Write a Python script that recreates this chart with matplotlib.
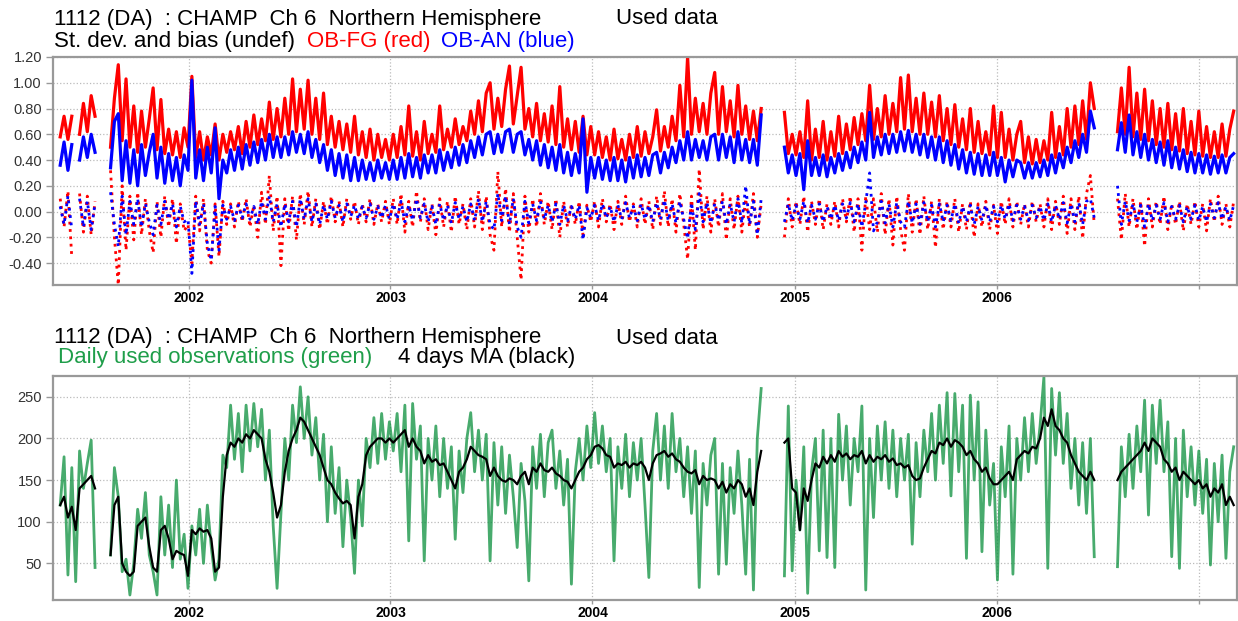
import numpy as np
import matplotlib
matplotlib.use('Agg')
import matplotlib.pyplot as plt

plt.rcParams['font.family'] = ['Liberation Sans', 'DejaVu Sans']

nan = float('nan')

# weekly samples, first week starting 2001-05-14
start = '2001-05-14'

# OB-FG std dev (red, solid)
fg_sd = [
    0.58, 0.74, 0.56, 0.74, nan, 0.60, 0.84, 0.62, 0.90, 0.74,
    nan, nan, nan,
    0.50, 0.88, 1.14, 0.55, 1.03, 0.50, 0.82, 0.46, 0.78, 0.50, 0.72,
    0.96, 0.48, 0.87, 0.45, 0.64, 0.44, 0.62, 0.42, 0.65, 0.50,
    1.05, 0.42, 0.62, 0.40, 0.58, 0.44, 0.68, 0.40, 0.60, 0.46, 0.62, 0.48,
    0.66, 0.45, 0.70, 0.50, 0.75, 0.52, 0.72, 0.55, 0.85, 0.56, 0.80,
    0.58, 0.88, 0.60, 1.03, 0.62, 0.95, 0.64, 1.02, 0.60, 0.88, 0.56, 0.92, 0.52, 0.74, 0.50,
    0.70, 0.48, 0.68, 0.46, 0.74, 0.44, 0.62, 0.42, 0.64, 0.40, 0.60, 0.42, 0.56, 0.40,
    0.60, 0.42, 0.66, 0.44, 0.82, 0.43, 0.62, 0.40, 0.70, 0.45, 0.60,
    0.46, 0.82, 0.48, 0.64, 0.50, 0.72, 0.52, 0.66, 0.55, 0.78,
    0.60, 0.86, 0.62, 0.92, 1.00, 0.64, 0.88, 0.66, 0.95, 1.13, 0.68, 0.90, 1.12, 0.64,
    0.80, 0.58, 0.84, 0.55, 0.76, 0.54, 0.82, 0.52, 0.97, 0.50, 0.72, 0.48, 0.70, 0.46, 0.74, 0.44, 0.66,
    0.44, 0.62, 0.42, 0.58, 0.40, 0.64, 0.41, 0.56, 0.40, 0.60, 0.42, 0.66, 0.43, 0.62, 0.45, 0.58,
    0.79, 0.47, 0.66, 0.50, 0.74, 0.55, 0.98, 0.58, 1.20, 0.60, 0.88, 0.62, 0.84, 0.60, 0.92, 1.08,
    0.60, 0.97, 0.62, 0.86, 0.58, 0.98, 0.60, 0.82, 0.56, 0.78, 0.55, 0.80,
    nan, nan, nan, nan, nan,
    0.77, 0.45, 0.60, 0.44, 0.62, 0.42, 0.86, 0.40, 0.64, 0.42, 0.70, 0.40, 0.62, 0.43, 0.74, 0.45, 0.68, 0.48, 0.73,
    0.52, 0.76, 0.55, 0.98, 0.56, 0.80, 0.58, 0.90, 0.60, 0.84, 0.62, 1.04, 0.64, 1.06, 0.62, 0.88, 0.60, 0.92,
    0.60, 0.85, 0.58, 0.90, 0.55, 0.80, 0.52, 0.83, 0.50, 0.72, 0.48, 0.80, 0.46, 0.70, 0.45, 0.62, 0.44, 0.82,
    0.42, 0.77, 0.42, 0.64, 0.40, 0.60, 0.70, 0.38, 0.58, 0.37, 0.56, 0.38, 0.55, 0.40, 0.77, 0.42, 0.66, 0.44, 0.80,
    0.50, 0.82, 0.52, 0.86, 0.56, 1.00, 0.80,
    nan, nan, nan, nan, nan,
    0.62, 0.96, 0.60, 1.12, 0.58, 0.92, 0.56, 0.95, 0.55, 0.86, 0.52, 0.80, 0.50, 0.84, 0.48, 0.76, 0.47, 0.80,
    0.45, 0.70, 0.44, 0.78, 0.43, 0.66, 0.42, 0.62, 0.42, 0.68, 0.43, 0.64, 0.78,
]

# OB-AN std dev (blue, solid)
an_sd = [
    0.36, 0.54, 0.32, 0.52, nan, 0.40, 0.58, 0.42, 0.60, 0.46,
    nan, nan, nan,
    0.34, 0.70, 0.76, 0.24, 0.55, 0.22, 0.48, 0.20, 0.52, 0.28, 0.46,
    0.60, 0.26, 0.50, 0.22, 0.45, 0.24, 0.42, 0.20, 0.44, 0.32,
    1.02, 0.26, 0.48, 0.24, 0.50, 0.30, 0.65, 0.10, 0.40, 0.30, 0.48, 0.32,
    0.50, 0.33, 0.52, 0.36, 0.54, 0.38, 0.56, 0.40, 0.60, 0.42, 0.58,
    0.42, 0.58, 0.44, 0.62, 0.46, 0.60, 0.45, 0.62, 0.42, 0.56, 0.38, 0.52, 0.32, 0.48, 0.28,
    0.45, 0.26, 0.44, 0.24, 0.42, 0.24, 0.40, 0.25, 0.38, 0.24, 0.40, 0.26, 0.38, 0.25,
    0.40, 0.25, 0.42, 0.26, 0.45, 0.27, 0.42, 0.26, 0.44, 0.30, 0.44,
    0.30, 0.48, 0.32, 0.46, 0.34, 0.50, 0.36, 0.52, 0.38, 0.55,
    0.42, 0.58, 0.44, 0.60, 0.62, 0.45, 0.60, 0.46, 0.62, 0.64, 0.46, 0.60, 0.62, 0.44,
    0.56, 0.40, 0.55, 0.36, 0.52, 0.34, 0.50, 0.32, 0.52, 0.30, 0.46, 0.28, 0.45, 0.30, 0.72, 0.15, 0.42,
    0.26, 0.42, 0.25, 0.40, 0.24, 0.42, 0.24, 0.40, 0.23, 0.42, 0.26, 0.44, 0.27, 0.42, 0.28, 0.44,
    0.46, 0.30, 0.46, 0.34, 0.50, 0.38, 0.55, 0.40, 0.62, 0.40, 0.56, 0.42, 0.55, 0.40, 0.58, 0.60,
    0.40, 0.60, 0.42, 0.58, 0.38, 0.62, 0.40, 0.56, 0.38, 0.56, 0.36, 0.75,
    nan, nan, nan, nan, nan,
    0.50, 0.30, 0.44, 0.28, 0.45, 0.17, 0.55, 0.28, 0.42, 0.28, 0.44, 0.27, 0.42, 0.30, 0.45, 0.32, 0.46, 0.34, 0.50,
    0.38, 0.54, 0.40, 0.77, 0.42, 0.58, 0.44, 0.60, 0.45, 0.60, 0.46, 0.62, 0.47, 0.63, 0.46, 0.60, 0.44, 0.60,
    0.42, 0.58, 0.40, 0.58, 0.38, 0.55, 0.36, 0.52, 0.33, 0.48, 0.30, 0.46, 0.29, 0.45, 0.28, 0.44, 0.28, 0.46,
    0.28, 0.42, 0.23, 0.40, 0.27, 0.40, 0.38, 0.26, 0.38, 0.26, 0.38, 0.27, 0.40, 0.28, 0.44, 0.30, 0.45, 0.34, 0.50,
    0.38, 0.55, 0.42, 0.60, 0.46, 0.78, 0.65,
    nan, nan, nan, nan, nan,
    0.48, 0.69, 0.46, 0.75, 0.44, 0.62, 0.42, 0.60, 0.40, 0.56, 0.38, 0.54, 0.36, 0.55, 0.34, 0.50, 0.33, 0.48,
    0.31, 0.46, 0.30, 0.45, 0.30, 0.44, 0.29, 0.43, 0.30, 0.44, 0.30, 0.42, 0.45,
]

# OB-FG bias (red, dotted)
fg_bias = [
    0.10, -0.12, 0.16, -0.36, nan, 0.14, -0.16, 0.12, -0.18, 0.08,
    nan, nan, nan,
    0.32, -0.20, -0.57, 0.20, -0.30, 0.12, -0.22, 0.15, -0.18, 0.10, -0.15,
    -0.32, 0.08, -0.20, 0.12, -0.12, 0.10, -0.25, 0.06, -0.15, -0.10,
    -0.40, 0.12, -0.15, 0.10, -0.30, -0.40, 0.06, -0.35, 0.08, -0.10, 0.06, -0.12,
    0.08, -0.08, 0.10, -0.12, 0.05, -0.20, 0.15, -0.10, 0.28, -0.15, 0.12,
    -0.42, 0.10, -0.15, 0.12, -0.22, 0.14, -0.10, 0.16, -0.12, 0.10, -0.14, 0.08, -0.10, 0.12, -0.08,
    0.08, -0.12, 0.10, -0.06, 0.08, -0.10, 0.06, -0.08, 0.10, -0.10, 0.06, -0.08, 0.08, -0.10,
    0.10, -0.10, 0.14, -0.16, 0.08, -0.12, 0.16, -0.08, 0.10, -0.14, 0.06,
    -0.18, 0.10, -0.12, 0.08, -0.16, 0.12, -0.10, 0.06, -0.14, 0.10,
    -0.12, 0.16, -0.14, 0.12, -0.18, -0.30, 0.31, -0.12, 0.18, -0.16, 0.14, -0.20, -0.53, 0.12,
    -0.16, 0.10, -0.12, 0.14, -0.10, 0.08, -0.14, 0.10, -0.20, 0.08, -0.12, 0.06, -0.10, 0.08, -0.18, 0.05, -0.08,
    0.08, -0.12, 0.10, -0.08, 0.06, -0.14, 0.08, -0.10, 0.12, -0.08, 0.06, -0.12, 0.10, -0.10, 0.08, -0.14,
    0.12, -0.10, 0.16, -0.12, 0.10, -0.16, 0.14, -0.10, -0.37, 0.12, -0.30, 0.33, -0.14, 0.12, -0.16, 0.10,
    -0.12, 0.14, -0.22, 0.10, -0.14, 0.12, -0.16, 0.10, -0.12, 0.14, -0.20, 0.06,
    nan, nan, nan, nan, nan,
    -0.20, 0.10, -0.12, 0.08, -0.10, 0.12, -0.16, 0.08, -0.10, 0.10, -0.14, 0.06, -0.10, 0.08, -0.12, 0.10, -0.08, 0.12, -0.16,
    0.10, -0.30, 0.12, -0.14, 0.10, -0.16, 0.14, -0.18, 0.10, -0.26, 0.12, -0.14, -0.30, 0.14, -0.16, 0.10, -0.18, 0.12,
    -0.14, 0.08, -0.28, 0.10, -0.14, 0.08, -0.12, 0.10, -0.16, 0.06, -0.14, 0.08, -0.20, 0.06, -0.12, 0.08, -0.14, 0.05,
    -0.17, 0.08, -0.10, 0.10, -0.12, 0.08, -0.10, 0.06, -0.12, 0.08, -0.08, 0.06, -0.12, 0.10, -0.14, 0.08, -0.10, 0.12, -0.17,
    0.10, -0.14, 0.12, -0.21, 0.14, 0.28, -0.10,
    nan, nan, nan, nan, nan,
    0.10, -0.22, 0.14, -0.12, 0.10, -0.14, 0.08, -0.27, 0.10, -0.12, 0.08, -0.10, 0.12, -0.14, 0.06, -0.10, 0.08, -0.15,
    0.06, -0.10, 0.08, -0.12, 0.06, -0.15, 0.10, -0.08, 0.12, -0.10, 0.06, -0.12, 0.08,
]

# OB-AN bias (blue, dotted)
an_bias = [
    0.04, -0.10, 0.12, -0.14, nan, 0.10, -0.12, 0.08, -0.14, 0.06,
    nan, nan, nan,
    0.15, -0.10, -0.27, 0.12, -0.18, 0.08, -0.10, 0.10, -0.12, 0.06, -0.08,
    -0.18, 0.05, -0.10, 0.08, -0.06, 0.06, -0.12, 0.04, -0.08, -0.06,
    -0.48, 0.08, -0.10, 0.06, -0.25, -0.38, 0.04, -0.30, 0.05, -0.06, 0.04, -0.07,
    0.05, -0.05, 0.06, -0.06, 0.04, -0.10, 0.08, -0.06, 0.12, -0.08, 0.06,
    -0.12, 0.06, -0.08, 0.08, -0.12, 0.10, -0.06, 0.10, -0.08, 0.06, -0.10, 0.05, -0.06, 0.08, -0.05,
    0.05, -0.08, 0.06, -0.04, 0.05, -0.06, 0.04, -0.05, 0.06, -0.06, 0.04, -0.05, 0.05, -0.06,
    0.06, -0.06, 0.08, -0.08, 0.05, -0.07, 0.10, -0.05, 0.06, -0.08, 0.04,
    -0.10, 0.06, -0.07, 0.05, -0.09, 0.07, -0.06, 0.04, -0.08, 0.06,
    -0.07, 0.10, -0.08, 0.08, -0.10, -0.14, 0.14, -0.07, 0.12, -0.10, 0.10, -0.12, -0.20, 0.08,
    -0.09, 0.06, -0.07, 0.08, -0.06, 0.05, -0.08, 0.06, -0.10, 0.05, -0.07, 0.04, -0.06, 0.05, -0.22, 0.03, -0.05,
    0.05, -0.07, 0.06, -0.05, 0.04, -0.08, 0.05, -0.06, 0.07, -0.05, 0.04, -0.07, 0.06, -0.06, 0.05, -0.08,
    0.07, -0.06, 0.09, -0.07, 0.06, -0.09, 0.08, -0.06, -0.21, 0.07, -0.14, 0.14, -0.08, 0.07, -0.09, 0.06,
    -0.07, 0.08, -0.10, 0.06, -0.08, 0.10, -0.09, 0.20, -0.10, 0.08, -0.18, 0.10,
    nan, nan, nan, nan, nan,
    -0.08, 0.06, -0.07, 0.05, -0.06, 0.08, -0.09, 0.05, -0.06, 0.06, -0.08, 0.04, -0.06, 0.05, -0.07, 0.06, -0.05, 0.07, -0.08,
    0.06, -0.12, 0.07, 0.30, -0.15, -0.08, 0.08, -0.09, 0.06, -0.12, 0.07, -0.08, -0.12, 0.08, -0.09, 0.06, -0.10, 0.07,
    -0.08, 0.05, -0.12, 0.06, -0.08, 0.05, -0.07, 0.06, -0.09, 0.04, -0.08, 0.05, -0.10, 0.04, -0.07, 0.05, -0.08, 0.04,
    -0.08, 0.05, -0.06, 0.06, -0.07, 0.05, -0.06, 0.04, -0.07, 0.05, -0.05, 0.04, -0.07, 0.06, -0.08, 0.05, -0.06, 0.07, -0.09,
    0.06, -0.08, 0.07, -0.10, 0.08, 0.10, -0.05,
    nan, nan, nan, nan, nan,
    0.20, -0.10, 0.08, -0.07, 0.06, -0.08, 0.05, -0.12, 0.06, -0.07, 0.05, -0.06, 0.07, -0.08, 0.04, -0.06, 0.05, -0.08,
    0.04, -0.06, 0.05, -0.07, 0.04, -0.08, 0.06, -0.05, 0.07, -0.06, 0.04, -0.07, 0.05,
]

# daily used observations (green)
nobs = [
    120, 178, 36, 165, 28, 185, 140, 170, 198, 45,
    nan, nan, nan,
    60, 165, 130, 40, 55, 12, 50, 115, 80, 135, 60,
    40, 12, 130, 60, 120, 45, 150, 55, 85, 20,
    95, 60, 115, 50, 120, 70, 30, 55, 180, 165, 240, 175,
    230, 160, 240, 185, 242, 190, 235, 150, 210, 95, 20,
    110, 200, 150, 240, 195, 262, 200, 250, 180, 225, 150, 205, 100, 190, 110,
    165, 70, 150, 105, 38, 150, 95, 200, 165, 225, 170, 230, 175, 220,
    185, 230, 160, 240, 77, 242, 175, 215, 53, 200, 150,
    215, 130, 200, 140, 190, 79, 185, 135, 200, 231,
    160, 210, 150, 205, 53, 195, 120, 190, 110, 180, 130, 69, 170, 125,
    29, 190, 140, 205, 130, 195, 210, 140, 185, 120, 175, 25, 160, 200, 150, 215, 165,
    231, 170, 215, 160, 200, 53, 190, 140, 205, 130, 195, 150, 200, 120, 33, 185,
    230, 150, 215, 140, 230, 160, 200, 130, 190, 110, 185, 21, 170, 120, 180, 200,
    37, 170, 49, 165, 110, 185, 120, 37, 175, 18, 200, 260,
    nan, nan, nan, nan, nan,
    35, 239, 41, 150, 90, 190, 14, 160, 200, 65, 210, 57, 200, 45, 229, 150, 215, 120, 200,
    160, 239, 18, 200, 105, 215, 150, 220, 140, 210, 130, 200, 150, 205, 73, 195, 130, 210,
    160, 230, 150, 240, 170, 255, 131, 254, 160, 240, 56, 252, 150, 244, 64, 210, 120, 170,
    30, 190, 130, 215, 37, 200, 150, 225, 160, 230, 170, 215, 274, 44, 260, 180, 255, 170, 230,
    140, 200, 120, 195, 110, 200, 58,
    nan, nan, nan, nan, nan,
    46, 190, 130, 205, 140, 215, 160, 246, 108, 240, 170, 246, 160, 220, 58, 200, 44, 210,
    130, 190, 120, 185, 110, 175, 48, 170, 100, 180, 56, 160, 190,
]

# 4 days moving average (black)
nobs_ma = [
    120, 130, 105, 118, 90, 140, 145, 150, 155, 140,
    nan, nan, nan,
    60, 120, 130, 50, 40, 35, 40, 95, 100, 105, 70,
    45, 40, 90, 95, 80, 55, 65, 62, 60, 35,
    90, 85, 92, 88, 90, 80, 40, 45, 130, 180, 195, 190,
    200, 195, 205, 200, 210, 205, 200, 175, 160, 135, 105,
    120, 160, 185, 200, 210, 225, 220, 210, 200, 190, 180, 165, 150, 145, 135,
    128, 122, 125, 120, 80, 130, 145, 180, 190, 195, 200, 200, 195, 200,
    195, 200, 205, 210, 190, 200, 190, 185, 170, 180, 172,
    175, 168, 170, 160, 150, 140, 160, 165, 175, 190,
    185, 180, 178, 175, 155, 165, 155, 150, 148, 152, 150, 145, 155, 160,
    145, 165, 160, 170, 162, 160, 165, 158, 155, 150, 148, 140, 150, 160, 165, 175, 180,
    190, 192, 188, 180, 178, 165, 170, 168, 172, 165, 170, 168, 172, 165, 150, 170,
    180, 182, 185, 178, 182, 175, 172, 165, 160, 158, 162, 145, 155, 150, 152, 150,
    140, 148, 135, 145, 140, 150, 145, 130, 140, 120, 160, 185,
    nan, nan, nan, nan, nan,
    195, 200, 140, 135, 90, 140, 125, 150, 170, 165, 178, 170, 180, 172, 185, 178, 182, 175, 180,
    178, 185, 170, 180, 172, 178, 175, 180, 172, 176, 168, 170, 165, 168, 155, 150, 152, 165,
    175, 185, 182, 195, 192, 200, 190, 198, 195, 190, 180, 185, 175, 170, 160, 165, 152, 145,
    145, 150, 155, 160, 150, 175, 180, 185, 182, 190, 188, 200, 225, 215, 235, 215, 210, 200, 195,
    180, 170, 160, 155, 150, 160, 150,
    nan, nan, nan, nan, nan,
    150, 160, 165, 170, 175, 180, 185, 195, 185, 200, 195, 190, 175, 170, 160, 165, 150, 160,
    155, 150, 145, 150, 140, 145, 130, 140, 135, 145, 120, 130, 120,
]

n = len(fg_sd)
for s in (an_sd, fg_bias, an_bias, nobs, nobs_ma):
    assert len(s) == n, len(s)
dates = np.datetime64(start) + np.arange(n) * np.timedelta64(7, 'D')

years = ['2002', '2003', '2004', '2005', '2006', '2007']
year_ticks = [np.datetime64(y + '-01-01') for y in years]
year_labels = years[:-1] + ['']
x_range = (np.datetime64('2001-05-01'), np.datetime64('2007-03-11'))

W, H = 1238, 621
fig = plt.figure(figsize=(W / 100, H / 100), dpi=100)
ax1 = fig.add_axes([53 / W, 1 - 285 / H, 1184 / W, 228 / H])
ax2 = fig.add_axes([53 / W, 1 - 600 / H, 1184 / W, 224 / H])


def style(ax, yticks, ylabels, ylim):
    ax.set_xlim(*x_range)
    ax.set_ylim(*ylim)
    ax.set_xticks(year_ticks)
    ax.set_xticklabels(year_labels, fontweight='bold', fontsize=10)
    ax.set_yticks(yticks)
    ax.set_yticklabels(ylabels, fontsize=10.5, color='#333333')
    ax.grid(True, linestyle=':', color='#bbbbbb', linewidth=0.9)
    ax.set_axisbelow(True)
    for sp in ax.spines.values():
        sp.set_color('#999999')
        sp.set_linewidth(1.6)
    ax.tick_params(axis='both', width=1, color='#999999')
    ax.tick_params(axis='y', length=5, pad=3)
    ax.tick_params(axis='x', length=3, pad=1)


# top panel: std dev and bias
ax1.plot(dates, fg_sd, color='#ff0000', lw=2.3)
ax1.plot(dates, an_sd, color='#0000ff', lw=2.3)
ax1.plot(dates, fg_bias, color='#ff0000', lw=2.0, linestyle=':')
ax1.plot(dates, an_bias, color='#0000ff', lw=2.0, linestyle=':')
t1 = [-0.4, -0.2, 0.0, 0.2, 0.4, 0.6, 0.8, 1.0, 1.2]
style(ax1, t1, ['%.2f' % v for v in t1], (-0.57, 1.2))

# bottom panel: number of used observations
ax2.plot(dates, nobs, color='#0a8f3c', lw=2.0, alpha=0.75)
ax2.plot(dates, nobs_ma, color='black', lw=1.6)
t2 = [50, 100, 150, 200, 250]
style(ax2, t2, [str(v) for v in t2], (6, 275))

title = '1112 (DA)  : CHAMP  Ch 6  Northern Hemisphere'
fs = 16
fig.text(54 / W, 1 - 19 / H, title, fontsize=fs, va='center')
fig.text(616 / W, 1 - 19 / H, 'Used data', fontsize=fs, va='center')
fig.text(54 / W, 1 - 41 / H, 'St. dev. and bias (undef)', fontsize=fs, va='center')
fig.text(307 / W, 1 - 41 / H, 'OB-FG (red)', fontsize=fs, va='center', color='#ff0000')
fig.text(441 / W, 1 - 41 / H, 'OB-AN (blue)', fontsize=fs, va='center', color='#0000ff')

fig.text(54 / W, 1 - 338 / H, title, fontsize=fs, va='center')
fig.text(616 / W, 1 - 338 / H, 'Used data', fontsize=fs, va='center')
fig.text(58 / W, 1 - 357 / H, 'Daily used observations (green)', fontsize=fs, va='center', color='#1f9e4a')
fig.text(398 / W, 1 - 357 / H, '4 days MA (black)', fontsize=fs, va='center')

fig.savefig('out.png', dpi=100)
